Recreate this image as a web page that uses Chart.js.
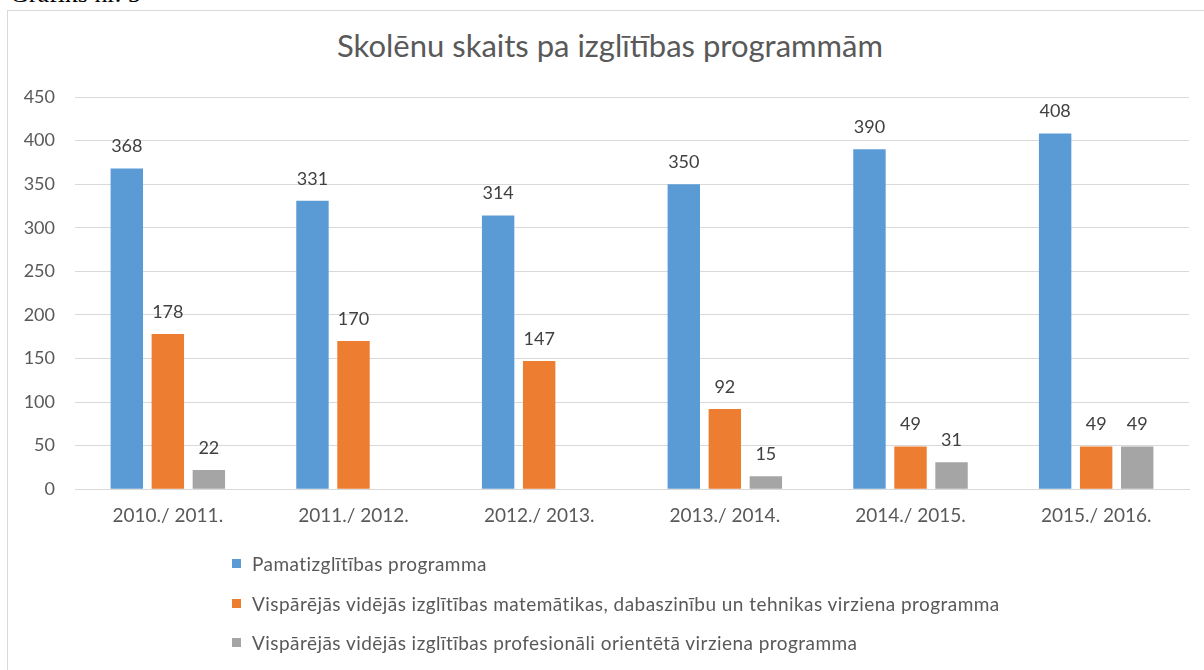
<!DOCTYPE html>
<html><head><meta charset="utf-8">
<script src="https://cdn.jsdelivr.net/npm/chart.js@4"></script>
<style>
html,body{margin:0;padding:0;background:#fff;width:1204px;height:670px;overflow:hidden;position:relative;font-family:Lato,sans-serif;}
#frame{position:absolute;left:7px;top:10px;width:1300px;height:700px;border:1px solid #D9D9D9;box-sizing:border-box;}
#cap{position:absolute;left:10px;top:-21px;font-family:"Liberation Serif",serif;font-size:26px;color:#000;white-space:nowrap;}
#title{position:absolute;left:0;width:1220px;top:27px;line-height:1.2;text-align:center;font-size:31px;color:#595959;}
#wrap{position:absolute;left:0;top:0;width:1204px;height:670px;}
#legend{position:absolute;left:232px;top:544px;}
.item{display:flex;align-items:center;height:39.5px;font-size:19px;letter-spacing:0.45px;color:#595959;white-space:nowrap;}
.sw{width:9px;height:9px;margin-right:11px;flex:none;}
</style>
</head><body>
<div id="cap">Grafiks nr. 5</div>
<div id="frame"></div>
<div id="title">Skolēnu skaits pa izglītības programmām</div>
<div id="wrap"><canvas id="c" width="1204" height="670"></canvas></div>
<div id="legend"></div>
<script>
const categories = ["2010./ 2011.", "2011./ 2012.", "2012./ 2013.", "2013./ 2014.", "2014./ 2015.", "2015./ 2016."];
const seriesNames = [
  "Pamatizglītības programma",
  "Vispārējās vidējās izglītības matemātikas, dabaszinību un tehnikas virziena programma",
  "Vispārējās vidējās izglītības profesionāli orientētā virziena programma"
];
const pamat = [368, 331, 314, 350, 390, 408];
const matem = [178, 170, 147, 92, 49, 49];
const prof = [22, null, null, 15, 31, 49];
const yTicks = [0, 50, 100, 150, 200, 250, 300, 350, 400, 450];
const colors = ["#5B9BD5", "#ED7D31", "#A5A5A5"];

const seriesData = [pamat, matem, prof];
const datasets = seriesData.map((d, i) => ({
  label: seriesNames[i],
  data: d,
  backgroundColor: colors[i],
  borderWidth: 0,
  categoryPercentage: 0.663,
  barPercentage: 0.79
}));

const valueLabels = {
  id: 'valueLabels',
  afterDatasetsDraw(chart) {
    const ctx = chart.ctx;
    ctx.save();
    ctx.font = '18px Lato';
    ctx.fillStyle = '#404040';
    ctx.textAlign = 'center';
    ctx.textBaseline = 'middle';
    chart.data.datasets.forEach((ds, i) => {
      const meta = chart.getDatasetMeta(i);
      meta.data.forEach((el, j) => {
        const v = ds.data[j];
        if (v === null || v === undefined) return;
        ctx.fillText(String(v), el.x, el.y - 22);
      });
    });
    ctx.restore();
  }
};

new Chart(document.getElementById('c'), {
  type: 'bar',
  data: { labels: categories, datasets },
  options: {
    responsive: false,
    animation: false,
    layout: { padding: { left: 0, right: 15, top: 97, bottom: 128 } },
    plugins: { legend: { display: false }, title: { display: false }, tooltip: { enabled: false } },
    scales: {
      x: {
        grid: { display: false, drawTicks: false },
        border: { display: true, color: '#D9D9D9' },
        ticks: { color: '#595959', font: { family: 'Lato', size: 19 }, padding: 15, maxRotation: 0 }
      },
      y: {
        min: 0, max: 450,
        afterBuildTicks(scale) { scale.ticks = yTicks.map(v => ({ value: v })); },
        afterFit(scale) { scale.width = 75; },
        grid: { color: '#D9D9D9', lineWidth: 1, drawTicks: false },
        border: { display: false },
        ticks: { color: '#595959', font: { family: 'Lato', size: 18 }, padding: 20 }
      }
    }
  },
  plugins: [valueLabels]
});

const leg = document.getElementById('legend');
seriesNames.forEach((n, i) => {
  const it = document.createElement('div');
  it.className = 'item';
  const sw = document.createElement('span');
  sw.className = 'sw';
  sw.style.background = colors[i];
  const t = document.createElement('span');
  t.textContent = n;
  it.appendChild(sw); it.appendChild(t);
  leg.appendChild(it);
});
</script>
</body></html>
